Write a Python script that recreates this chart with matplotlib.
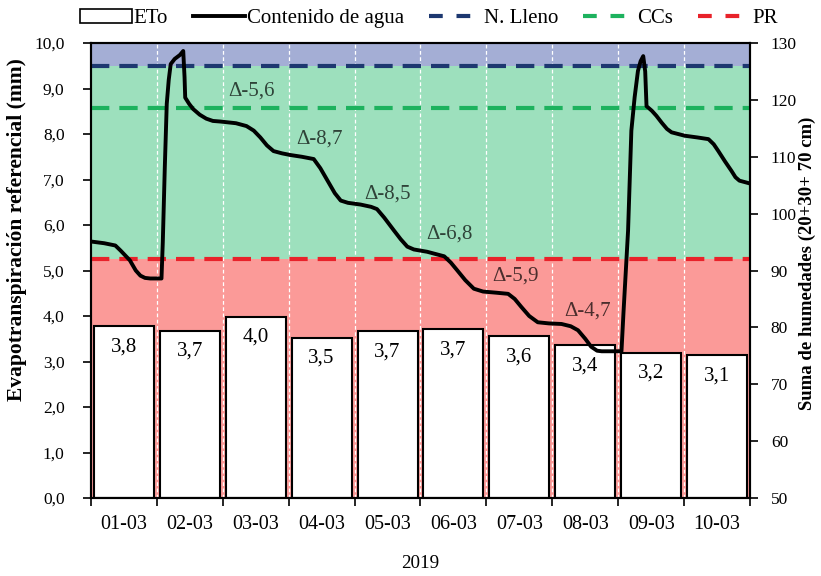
import numpy as np
import matplotlib.pyplot as plt
from matplotlib.patches import Patch
from matplotlib.lines import Line2D

plt.rcParams['font.family'] = ['Liberation Serif', 'DejaVu Serif']

# daily reference evapotranspiration (mm)
dias = ["01-03", "02-03", "03-03", "04-03", "05-03",
        "06-03", "07-03", "08-03", "09-03", "10-03"]
eto = [3.78, 3.68, 3.98, 3.52, 3.66, 3.71, 3.56, 3.36, 3.19, 3.14]
eto_txt = ["3,8", "3,7", "4,0", "3,5", "3,7", "3,7", "3,6", "3,4", "3,2", "3,1"]

# soil water content (sum of 20+30+70 cm), x in days from start
t_agua = [0.00, 0.20, 0.37, 0.45, 0.59, 0.68, 0.75, 0.82, 0.90, 1.07,
          1.09, 1.12, 1.15, 1.18, 1.21, 1.27, 1.35, 1.40, 1.42, 1.43,
          1.49, 1.55, 1.65, 1.75, 1.85, 1.96, 2.20, 2.36, 2.47, 2.57,
          2.67, 2.77, 2.90, 3.03, 3.20, 3.38, 3.48, 3.59, 3.70, 3.79,
          3.90, 4.09, 4.25, 4.34, 4.45, 4.60, 4.70, 4.80, 4.90, 5.10,
          5.36, 5.46, 5.56, 5.68, 5.81, 5.95, 6.15, 6.33, 6.43, 6.53,
          6.65, 6.78, 6.95, 7.14, 7.28, 7.39, 7.50, 7.59, 7.68, 7.75,
          8.05, 8.08, 8.15, 8.20, 8.25, 8.30, 8.34, 8.38, 8.41, 8.43,
          8.51, 8.58, 8.66, 8.74, 8.81, 9.01, 9.20, 9.37, 9.45, 9.52,
          9.62, 9.72, 9.78, 9.84, 10.00]
agua = [95.1, 94.8, 94.4, 93.5, 91.8, 90.0, 89.1, 88.7, 88.6, 88.6,
        95.0, 108.0, 119.3, 123.5, 126.3, 127.2, 127.9, 128.6, 124.0, 120.4,
        119.3, 118.4, 117.4, 116.7, 116.3, 116.2, 115.9, 115.4, 114.6, 113.4,
        112.0, 111.0, 110.6, 110.3, 110.0, 109.6, 108.0, 105.8, 103.6, 102.3,
        101.9, 101.6, 101.2, 100.8, 99.3, 97.0, 95.5, 94.2, 93.7, 93.3,
        92.5, 91.4, 90.0, 88.3, 86.8, 86.3, 86.1, 85.9, 85.0, 83.6,
        82.0, 80.9, 80.7, 80.6, 80.2, 79.5, 78.0, 76.6, 75.9, 75.8,
        75.8, 82.5, 97.0, 114.6, 120.5, 125.1, 126.8, 127.7, 125.0, 118.9,
        118.1, 117.2, 116.0, 114.9, 114.3, 113.7, 113.4, 113.1, 112.2, 111.0,
        109.2, 107.5, 106.4, 105.8, 105.3]

# thresholds (right axis units)
n_lleno = 126.0
ccs = 118.6
pr = 92.0

# drops per day
delta_txt = ["Δ-5,6", "Δ-8,7", "Δ-8,5", "Δ-6,8", "Δ-5,9", "Δ-4,7"]
delta_x = [2.44, 3.47, 4.50, 5.44, 6.44, 7.54]
delta_y = [121.6, 113.1, 103.5, 96.5, 89.1, 82.9]

c_top = "#a4aed5"
c_green = "#9de0bd"
c_red = "#fb9a98"
c_blue_line = "#1d3870"
c_green_line = "#1db25e"
c_red_line = "#e8222a"

fig = plt.figure(figsize=(8.21, 5.76), dpi=100)
ax = fig.add_axes([0.1108, 0.1354, 0.8027, 0.7899])
ax2 = ax.twinx()

ax.set_xlim(0, 10)
ax.set_ylim(0, 10)
ax2.set_ylim(50, 130)

# background bands, converted to left-axis units
def to_left(v):
    return (v - 50) / 80 * 10

ax.axhspan(to_left(n_lleno), 10, color=c_top, zorder=0, lw=0)
ax.axhspan(to_left(pr), to_left(n_lleno), color=c_green, zorder=0, lw=0)
ax.axhspan(0, to_left(pr), color=c_red, zorder=0, lw=0)
for d in range(1, 10):
    ax.axvline(d, color="white", lw=0.9, ls=(0, (3, 2)), zorder=1)

x = np.arange(len(dias)) + 0.5
ax.bar(x, eto, width=0.91, color="white", edgecolor="black", lw=1.5, zorder=2)
for xi, h, s in zip(x, eto, eto_txt):
    ax.annotate(s, (xi, h), xytext=(0, -8), textcoords="offset points",
                ha="center", va="top", fontsize=15, zorder=3)

dash = (0, (4.4, 2.4))
ax2.axhline(n_lleno, color=c_blue_line, lw=3, ls=dash)
ax2.axhline(ccs, color=c_green_line, lw=3, ls=dash)
ax2.axhline(pr, color=c_red_line, lw=3, ls=dash)
ax2.plot(t_agua, agua, color="black", lw=2.8, solid_joinstyle="round")

for s, dx, dy in zip(delta_txt, delta_x, delta_y):
    ax2.text(dx, dy, s, ha="center", va="center", fontsize=15,
             color="black", alpha=0.7)

# axes and ticks
ax.set_xticks(np.arange(0, 11))
ax.set_xticklabels([])
ax.set_xticks(x, minor=True)
ax.set_xticklabels(dias, minor=True, fontsize=14.5)
ax.tick_params(axis="x", which="minor", length=0, pad=12)
ax.tick_params(axis="x", which="major", length=6, width=1.2, direction="out")
ax.set_yticks(np.arange(0, 11))
ax.set_yticklabels([f"{v:.1f}".replace(".", ",") for v in range(0, 11)], fontsize=12.5)
ax.tick_params(axis="y", length=6, width=1.2, direction="out", pad=13)
ax2.set_yticks(np.arange(50, 131, 10))
ax2.tick_params(axis="y", labelsize=12.5, length=6, width=1.2, direction="out", pad=9)
for a in (ax, ax2):
    for sp in a.spines.values():
        sp.set_linewidth(1.5)

ax.set_ylabel("Evapotranspiración referencial (mm)", fontsize=15.5, fontweight="bold")
ax.yaxis.set_label_coords(-0.097, 0.59)
ax2.set_ylabel("Suma de humedades (20+30+ 70 cm)", fontsize=13.5, fontweight="bold")
ax2.yaxis.set_label_coords(1.074, 0.515)
ax.set_xlabel("2019", fontsize=13.7, labelpad=15)

handles = [
    Patch(facecolor="white", edgecolor="black", lw=1.2),
    Line2D([], [], color="black", lw=2.8),
    Line2D([], [], color=c_blue_line, lw=3, ls=(0, (3.3, 3.3))),
    Line2D([], [], color=c_green_line, lw=3, ls=(0, (3.3, 3.3))),
    Line2D([], [], color=c_red_line, lw=3, ls=(0, (3.3, 3.3))),
]
labels = ["ETo", "Contenido de agua", "N. Lleno", "CCs", "PR"]
fig.legend(handles, labels, loc="center", bbox_to_anchor=(0.522, 0.968), ncol=5,
           frameon=False, fontsize=15, handlelength=2.5, handletextpad=0.1,
           columnspacing=1.2, borderpad=0.1)

fig.savefig("out.png", dpi=100)
